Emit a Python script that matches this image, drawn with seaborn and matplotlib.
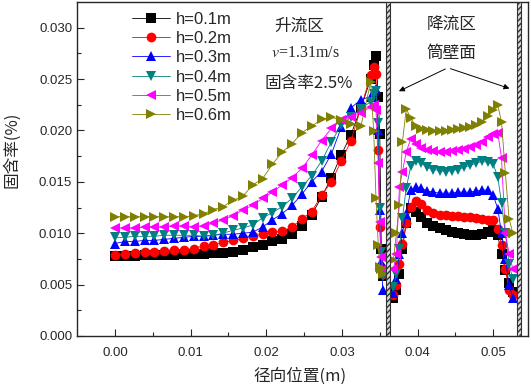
import numpy as np
import pandas as pd
import matplotlib
matplotlib.use("Agg")
import matplotlib.pyplot as plt
import seaborn as sns

# radial positions (m): riser (upflow) and annulus (downflow)
x_up = [0.0000, 0.0013, 0.0026, 0.0039, 0.0052, 0.0065, 0.0078, 0.0091, 0.0104,
        0.0117, 0.0130, 0.0143, 0.0156, 0.0169, 0.0182, 0.0195, 0.0208, 0.0221,
        0.0234, 0.0247, 0.0260, 0.0273, 0.0286, 0.0299, 0.0312, 0.0325, 0.0338,
        0.0342, 0.0345, 0.0348, 0.0350, 0.0352, 0.0354]
x_down = [0.0368, 0.0372, 0.0376, 0.0380, 0.0385, 0.0391, 0.0398, 0.0405, 0.0413,
          0.0421, 0.0429, 0.0437, 0.0445, 0.0453, 0.0461, 0.0469, 0.0477, 0.0485,
          0.0493, 0.0500, 0.0506, 0.0511, 0.0516, 0.0521, 0.0526]

heights = ["h=0.1m", "h=0.2m", "h=0.3m", "h=0.4m", "h=0.5m", "h=0.6m"]

up_h01 = [0.0078, 0.0078, 0.0078, 0.0079, 0.0079, 0.0079, 0.0079, 0.0080, 0.0080,
          0.0080, 0.0081, 0.0081, 0.0082, 0.0084, 0.0087, 0.0089, 0.0092, 0.0094,
          0.0099, 0.0107, 0.0118, 0.0135, 0.0154, 0.0176, 0.0196, 0.0222, 0.0250,
          0.0264, 0.0272, 0.0233, 0.0197, 0.0085, 0.0058]
up_h02 = [0.0079, 0.0080, 0.0081, 0.0082, 0.0082, 0.0083, 0.0084, 0.0084, 0.0085,
          0.0088, 0.0089, 0.0091, 0.0093, 0.0095, 0.0097, 0.0099, 0.0101, 0.0102,
          0.0106, 0.0114, 0.0121, 0.0137, 0.0150, 0.0170, 0.0190, 0.0222, 0.0254,
          0.0262, 0.0255, 0.0181, 0.0106, 0.0067, 0.0060]
up_h03 = [0.0090, 0.0092, 0.0092, 0.0093, 0.0093, 0.0094, 0.0095, 0.0096, 0.0097,
          0.0097, 0.0098, 0.0099, 0.0099, 0.0100, 0.0101, 0.0106, 0.0113, 0.0119,
          0.0127, 0.0138, 0.0150, 0.0160, 0.0177, 0.0203, 0.0222, 0.0230, 0.0233,
          0.0238, 0.0240, 0.0200, 0.0123, 0.0072, 0.0045]
up_h04 = [0.0096, 0.0096, 0.0097, 0.0097, 0.0097, 0.0098, 0.0098, 0.0098, 0.0098,
          0.0097, 0.0098, 0.0100, 0.0103, 0.0105, 0.0108, 0.0115, 0.0120, 0.0126,
          0.0134, 0.0145, 0.0156, 0.0170, 0.0189, 0.0205, 0.0213, 0.0221, 0.0228,
          0.0235, 0.0238, 0.0207, 0.0125, 0.0082, 0.0058]
up_h05 = [0.0105, 0.0105, 0.0105, 0.0106, 0.0106, 0.0106, 0.0107, 0.0107, 0.0106,
          0.0107, 0.0110, 0.0113, 0.0117, 0.0123, 0.0127, 0.0134, 0.0140, 0.0147,
          0.0154, 0.0163, 0.0176, 0.0190, 0.0202, 0.0210, 0.0213, 0.0217, 0.0223,
          0.0225, 0.0220, 0.0168, 0.0111, 0.0077, 0.0065]
up_h06 = [0.0116, 0.0116, 0.0116, 0.0116, 0.0116, 0.0116, 0.0116, 0.0116, 0.0117,
          0.0119, 0.0123, 0.0126, 0.0132, 0.0136, 0.0147, 0.0153, 0.0167, 0.0179,
          0.0187, 0.0198, 0.0204, 0.0211, 0.0213, 0.0210, 0.0206, 0.0204, 0.0247,
          0.0199, 0.0134, 0.0089, 0.0067, 0.0065, 0.0060]

down_h01 = [0.0037, 0.0045, 0.0060, 0.0085, 0.0110, 0.0125, 0.0121, 0.0116, 0.0110,
            0.0107, 0.0105, 0.0103, 0.0101, 0.0100, 0.0099, 0.0098, 0.0098, 0.0099,
            0.0101, 0.0103, 0.0098, 0.0080, 0.0064, 0.0052, 0.0043]
down_h02 = [0.0040, 0.0050, 0.0070, 0.0090, 0.0110, 0.0126, 0.0131, 0.0128, 0.0123,
            0.0120, 0.0118, 0.0118, 0.0117, 0.0117, 0.0116, 0.0116, 0.0115, 0.0114,
            0.0113, 0.0113, 0.0104, 0.0089, 0.0065, 0.0045, 0.0040]
down_h03 = [0.0042, 0.0055, 0.0080, 0.0100, 0.0119, 0.0142, 0.0145, 0.0144, 0.0141,
            0.0140, 0.0139, 0.0139, 0.0139, 0.0140, 0.0140, 0.0140, 0.0141, 0.0142,
            0.0142, 0.0137, 0.0124, 0.0100, 0.0075, 0.0050, 0.0037]
down_h04 = [0.0048, 0.0060, 0.0085, 0.0115, 0.0144, 0.0165, 0.0170, 0.0168, 0.0164,
            0.0162, 0.0161, 0.0160, 0.0161, 0.0162, 0.0164, 0.0166, 0.0168, 0.0170,
            0.0169, 0.0167, 0.0155, 0.0129, 0.0100, 0.0070, 0.0055]
down_h05 = [0.0065, 0.0080, 0.0145, 0.0160, 0.0179, 0.0192, 0.0187, 0.0183, 0.0181,
            0.0180, 0.0179, 0.0179, 0.0180, 0.0181, 0.0182, 0.0184, 0.0186, 0.0189,
            0.0194, 0.0197, 0.0198, 0.0173, 0.0100, 0.0080, 0.0065]
down_h06 = [0.0074, 0.0100, 0.0127, 0.0189, 0.0221, 0.0212, 0.0204, 0.0201, 0.0200,
            0.0199, 0.0199, 0.0199, 0.0200, 0.0201, 0.0202, 0.0203, 0.0205, 0.0208,
            0.0214, 0.0220, 0.0225, 0.0208, 0.0159, 0.0114, 0.0100]

up_series = [up_h01, up_h02, up_h03, up_h04, up_h05, up_h06]
down_series = [down_h01, down_h02, down_h03, down_h04, down_h05, down_h06]

colors = ["#000000", "#ff0000", "#0000ff", "#008080", "#ff00ff", "#808000"]
markers = ["s", "o", "^", "v", "<", ">"]

# long-form table, one row per point
rows = []
for h, yu, yd in zip(heights, up_series, down_series):
    rows += [dict(x=x, y=y, h=h, zone="up") for x, y in zip(x_up, yu)]
    rows += [dict(x=x, y=y, h=h, zone="down") for x, y in zip(x_down, yd)]
df = pd.DataFrame(rows)

sns.set_style("ticks")
plt.rcParams["font.family"] = ["Liberation Sans", "Noto Sans CJK SC"]
plt.rcParams["mathtext.fontset"] = "stix"
plt.rcParams["xtick.direction"] = "in"
plt.rcParams["ytick.direction"] = "in"

fig = plt.figure(figsize=(5.31, 3.89), dpi=100)
ax = fig.add_axes([77 / 531, 53 / 389, 451 / 531, 334 / 389])

sns.lineplot(
    data=df, x="x", y="y", hue="h", style="h", units="zone", estimator=None,
    sort=False, palette=dict(zip(heights, colors)),
    markers=dict(zip(heights, markers)), dashes=False,
    linewidth=0.6, markersize=7, markeredgewidth=0, ax=ax,
)

# walls of the draft tube and the outer column
for x0, x1 in [(0.0358, 0.0364), (0.0531, 0.0537)]:
    ax.axvspan(x0, x1, facecolor="#d8d8d8", edgecolor="#333333",
               hatch="//////", linewidth=0.8, zorder=5)

ax.set_xlim(-0.00503, 0.0546)
ax.set_ylim(0, 0.0325)
ax.set_xticks(np.arange(0, 0.051, 0.01))
ax.set_xticks(np.arange(0, 0.0546, 0.005), minor=True)
ax.set_yticks(np.arange(0, 0.031, 0.005))
ax.set_yticks(np.arange(0, 0.0325, 0.0025), minor=True)
ax.xaxis.set_major_formatter(matplotlib.ticker.FormatStrFormatter("%.2f"))
ax.yaxis.set_major_formatter(matplotlib.ticker.FormatStrFormatter("%.3f"))
ax.tick_params(which="major", length=5, width=0.8, labelsize=9.5)
ax.tick_params(which="minor", length=3, width=0.8)
ax.tick_params(axis="x", pad=8)
for s in ax.spines.values():
    s.set_linewidth(1.0)

cjk = ["Noto Sans CJK SC", "DejaVu Sans"]
ax.set_xlabel("径向位置(m)", family=cjk, fontsize=12)
ax.set_ylabel("固含率(%)", family=cjk, fontsize=12)
ax.xaxis.set_label_coords(0.494, -0.095)
ax.yaxis.set_label_coords(-0.126, 0.557)

handles, labels = ax.get_legend_handles_labels()
ax.legend(handles, labels, loc="upper left", bbox_to_anchor=(0.1, 1.0),
          frameon=False, fontsize=12, handlelength=2.3, handletextpad=0.3,
          labelspacing=0.25, borderaxespad=0.2)

ax.text(0.0244, 0.0301, "升流区", family=cjk, fontsize=12, ha="center", va="center")
ax.text(0.0252, 0.0275, r"$\mathit{v}$=1.31m/s", family="Liberation Serif",
        fontsize=11.5, ha="center", va="center")
ax.text(0.0256, 0.0246, "固含率2.5%", family=cjk, fontsize=12, ha="center", va="center")
ax.text(0.0445, 0.0303, "降流区", family=cjk, fontsize=12, ha="center", va="center")
ax.text(0.0445, 0.0275, "筒壁面", family=cjk, fontsize=12, ha="center", va="center")
for tx, ty in [(0.0372, 0.0237), (0.0525, 0.0240)]:
    ax.annotate("", xy=(tx, ty), xytext=(0.0440, 0.0261),
                arrowprops=dict(arrowstyle="-|>", color="black", lw=0.7,
                                mutation_scale=8))

fig.savefig("out.png", dpi=100)
